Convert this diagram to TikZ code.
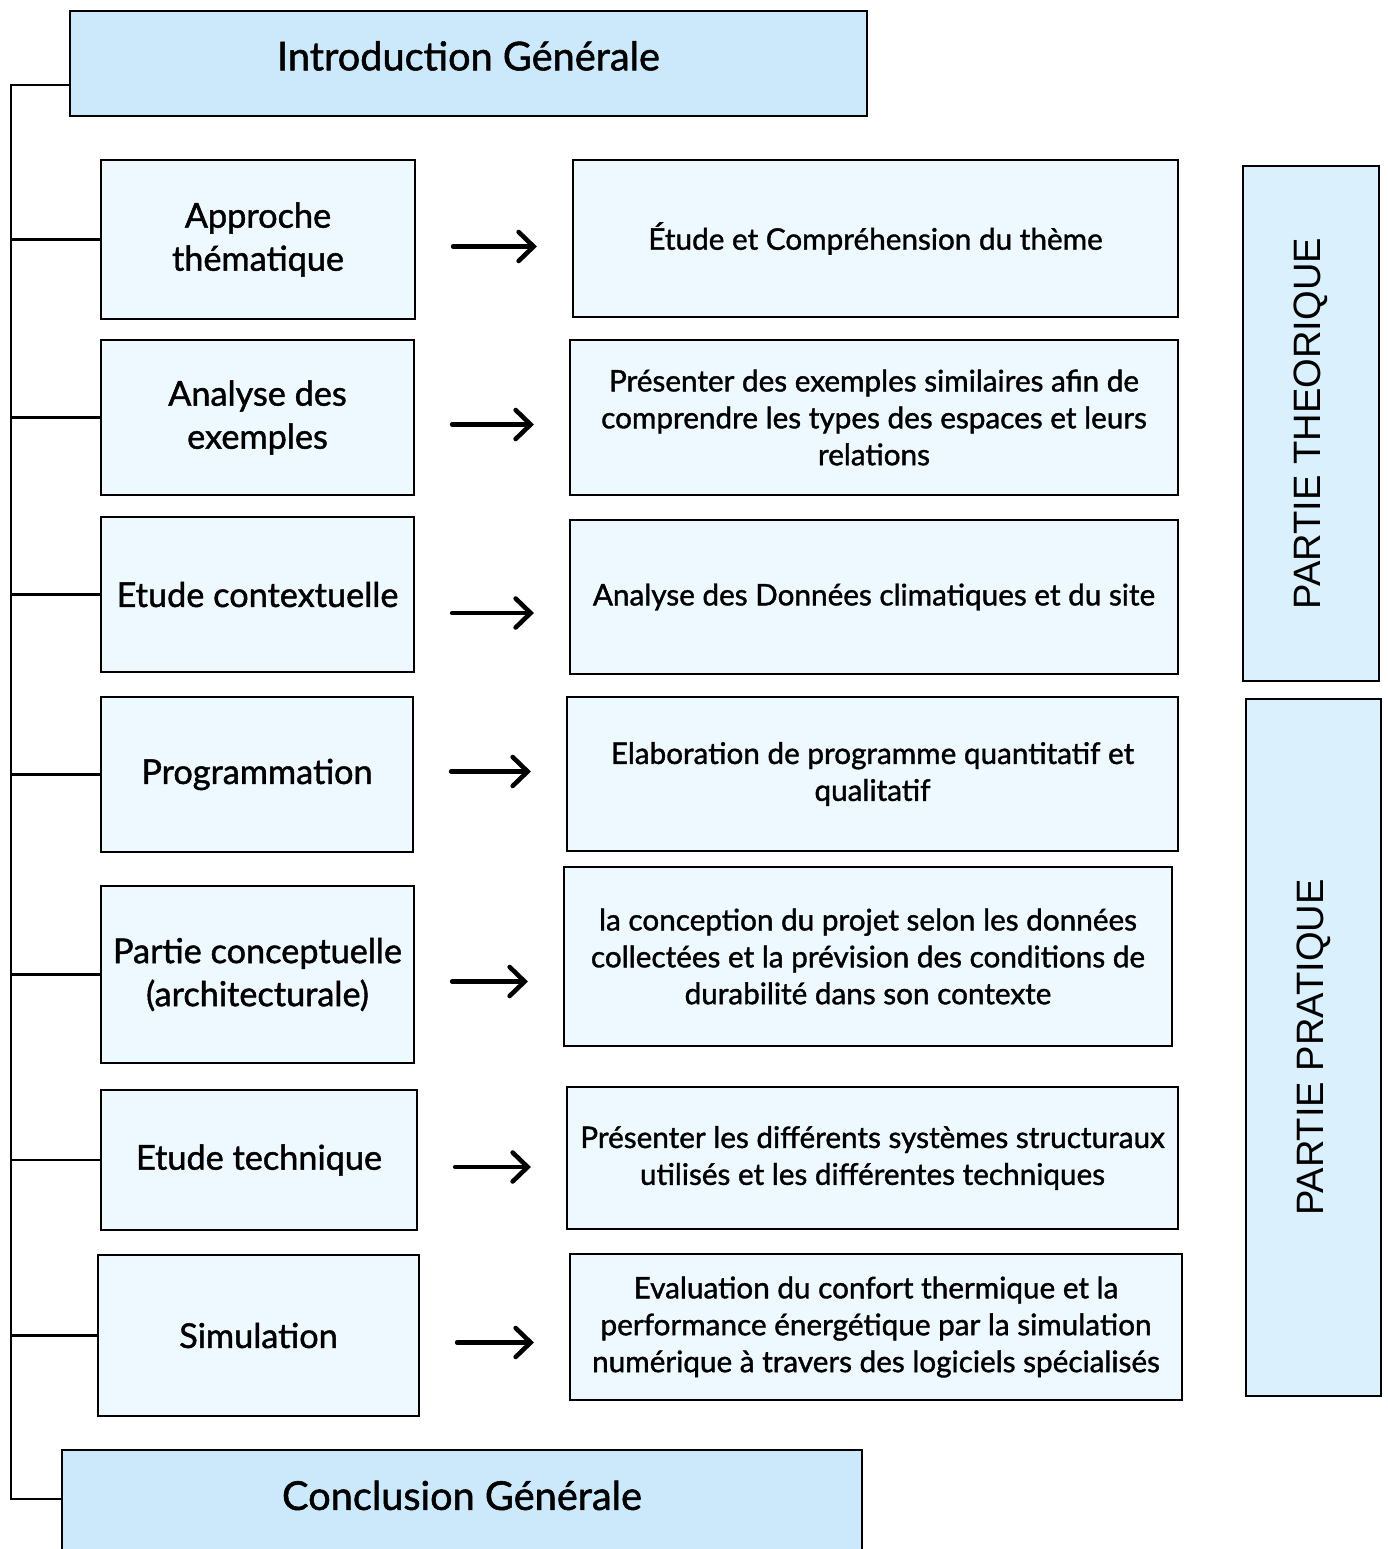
\documentclass[tikz,border=0pt]{standalone}
\usepackage{fontspec}
\setmainfont{Lato}[FakeBold=1.3]
\newfontfamily\sidefont{Liberation Sans}
\usetikzlibrary{arrows.meta}
\definecolor{titleblue}{RGB}{204,233,252}
\definecolor{boxblue}{RGB}{238,248,255}
\definecolor{sideblue}{RGB}{218,240,253}

\begin{document}
\begin{tikzpicture}[x=0.02cm, y=-0.02cm]

\tikzstyle{titlebox} = [rectangle, draw=black, line width=1.4pt, fill=titleblue, inner sep=0pt, text centered, text depth=0.31cm, font=\fontsize{22.6}{27}\selectfont]
\tikzstyle{stepbox} = [rectangle, draw=black, line width=1.3pt, fill=boxblue, inner sep=2pt, align=center, font=\fontsize{19.5}{24.5}\selectfont]
\tikzstyle{descbox} = [rectangle, draw=black, line width=1.3pt, fill=boxblue, inner sep=2pt, align=center, font=\fontsize{16.9}{21}\selectfont]
\tikzstyle{sidebox} = [rectangle, draw=black, line width=1.3pt, fill=sideblue, inner sep=0pt, rotate=90, font=\sidefont\fontsize{21.7}{25}\selectfont]
\tikzstyle{arrow} = [line width=2.6pt, line cap=round, -{Straight Barb[length=0.3cm, width=0.58cm, line cap=round]}, shorten <=0.74cm, shorten >=0.7cm, transform canvas={yshift=-0.14cm}]
\tikzstyle{line} = [line width=1.4pt]

\useasboundingbox (0,0) rectangle (1387,1549);

% title boxes
\node (intro) [titlebox, minimum width=15.94cm, minimum height=2.1cm] at (468.5,63.5) {Introduction Générale};
\node (concl) [titlebox, minimum width=16cm, minimum height=2.12cm] at (462,1503) {Conclusion Générale};

% steps
\node (a1) [stepbox, minimum width=6.28cm, minimum height=3.18cm] at (258,239.5) {Approche\\thématique};
\node (a2) [stepbox, minimum width=6.26cm, minimum height=3.1cm] at (257.5,417.5) {Analyse des\\exemples};
\node (a3) [stepbox, minimum width=6.26cm, minimum height=3.1cm] at (257.5,594.5) {Etude contextuelle};
\node (a4) [stepbox, minimum width=6.24cm, minimum height=3.1cm] at (257,774.5) {Programmation};
\node (a5) [stepbox, minimum width=6.26cm, minimum height=3.54cm] at (257.5,974.5) {Partie conceptuelle\\(architecturale)};
\node (a6) [stepbox, minimum width=6.32cm, minimum height=2.8cm] at (259,1160) {Etude technique};
\node (a7) [stepbox, minimum width=6.42cm, minimum height=3.22cm] at (258.5,1335.5) {Simulation};

% descriptions
\node (b1) [descbox, minimum width=12.1cm, minimum height=3.14cm] at (875.5,238.5) {Étude et Compréhension du thème};
\node (b2) [descbox, minimum width=12.16cm, minimum height=3.1cm] at (874,417.5) {Présenter des exemples similaires afin de\\comprendre les types des espaces et leurs\\relations};
\node (b3) [descbox, minimum width=12.16cm, minimum height=3.08cm] at (874,597) {Analyse des Données climatiques et du site};
\node (b4) [descbox, minimum width=12.22cm, minimum height=3.08cm] at (872.5,774) {Elaboration de programme quantitatif et\\qualitatif};
\node (b5) [descbox, minimum width=12.16cm, minimum height=3.58cm] at (868,956.5) {la conception du projet selon les données\\collectées et la prévision des conditions de\\durabilité dans son contexte};
\node (b6) [descbox, minimum width=12.22cm, minimum height=2.84cm] at (872.5,1158) {Présenter les différents systèmes structuraux\\utilisés et les différentes techniques};
\node (b7) [descbox, minimum width=12.24cm, minimum height=2.92cm] at (876,1327) {Evaluation du confort thermique et la\\performance énergétique par la simulation\\numérique à travers des logiciels spécialisés};

% parts
\node (theo) [sidebox, minimum width=10.3cm, minimum height=2.72cm] at (1311,423.5) {PARTIE THEORIQUE};
\node (prat) [sidebox, minimum width=13.94cm, minimum height=2.7cm] at (1313.5,1047.5) {PARTIE PRATIQUE};

% spine
\coordinate (top) at (11,85);
\coordinate (bot) at (11,1499);
\draw [line] (intro.west |- top) -- (top) -- (bot) -- (bot -| concl.west);
\draw [line] (a1.west) -- (a1.west -| top);
\draw [line] (a2.west) -- (a2.west -| top);
\draw [line] (a3.west) -- (a3.west -| top);
\draw [line] (a4.west) -- (a4.west -| top);
\draw [line] (a5.west) -- (a5.west -| top);
\draw [line] (a6.west) -- (a6.west -| top);
\draw [line] (a7.west) -- (a7.west -| top);

% arrows
\draw [arrow] (a1.east) -- (a1.east -| b1.west);
\draw [arrow] (a2.east) -- (a2.east -| b2.west);
\draw [arrow] ([yshift=-0.23cm]a3.east) -- ([yshift=-0.23cm]a3.east -| b3.west);
\draw [arrow] ([yshift=0.2cm]a4.east) -- ([yshift=0.2cm]a4.east -| b4.west);
\draw [arrow] (a5.east) -- (a5.east -| b5.west);
\draw [arrow] (a6.east) -- (a6.east -| b6.west);
\draw [arrow] (a7.east) -- (a7.east -| b7.west);

\end{tikzpicture}
\end{document}
